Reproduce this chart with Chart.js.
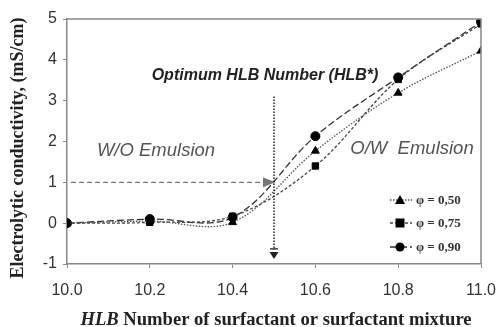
<!DOCTYPE html>
<html><head><meta charset="utf-8">
<script src="https://cdn.jsdelivr.net/npm/chart.js@4.4.0/dist/chart.umd.min.js"></script>
<style>html,body{margin:0;padding:0;background:#fff}#wrap{width:501px;height:327px}</style>
</head><body><div id="wrap"><canvas id="c" width="501" height="327"></canvas></div>
<script>
const hlb = [10.0, 10.2, 10.4, 10.6, 10.8, 11.0];
const phi050 = [0.00, 0.05, 0.02, 1.77, 3.19, 4.22];
const phi075 = [0.00, 0.02, 0.17, 1.40, 3.52, 4.88];
const phi090 = [0.00, 0.10, 0.14, 2.13, 3.57, 4.93];
const seriesLabels = ['φ = 0,50', 'φ = 0,75', 'φ = 0,90'];
const xTicks = [10.0, 10.2, 10.4, 10.6, 10.8, 11.0];
const yTicks = [-1, 0, 1, 2, 3, 4, 5];
const optimumHLB = 10.5;
const refConductivity = 1;

const pts = arr => arr.map((v, i) => ({x: hlb[i], y: v}));
const styles = [
  {color: '#555', dash: [1.5, 1.5], marker: 'triangle'},
  {color: '#444', dash: [3, 2], marker: 'rect'},
  {color: '#333', dash: [7, 3], marker: 'circle'}
];
const datasets = [phi050, phi075, phi090].map((arr, i) => ({
  label: seriesLabels[i],
  data: pts(arr),
  borderColor: styles[i].color,
  borderWidth: 1.3,
  borderDash: styles[i].dash,
  tension: 0.35,
  pointStyle: styles[i].marker,
  pointRadius: 4.5,
  pointBackgroundColor: '#000',
  pointBorderColor: '#000',
  pointBorderWidth: 1,
  fill: false
}));

const deco = {
  id: 'deco',
  afterDraw(chart) {
    const ctx = chart.ctx, a = chart.chartArea;
    const xs = chart.scales.x, ys = chart.scales.y;
    ctx.save();
    // box top/right
    ctx.strokeStyle = '#888'; ctx.lineWidth = 1.5; ctx.setLineDash([]);
    ctx.beginPath();
    ctx.moveTo(a.left, a.top); ctx.lineTo(a.right, a.top); ctx.lineTo(a.right, a.bottom);
    ctx.stroke();
    // horizontal dashed arrow at y=1
    const y1 = ys.getPixelForValue(refConductivity);
    const xOpt = xs.getPixelForValue(optimumHLB);
    ctx.strokeStyle = '#777'; ctx.lineWidth = 1.3; ctx.setLineDash([5, 3]);
    ctx.beginPath(); ctx.moveTo(xs.getPixelForValue(hlb[0]) + 4, y1); ctx.lineTo(xOpt - 9, y1); ctx.stroke();
    ctx.setLineDash([]); ctx.fillStyle = '#777';
    ctx.beginPath(); ctx.moveTo(xOpt + 1, y1); ctx.lineTo(xOpt - 11, y1 - 5); ctx.lineTo(xOpt - 11, y1 + 5); ctx.closePath(); ctx.fill();
    // vertical dotted line at optimum
    const yTop = ys.getPixelForValue(3.1), yBot = ys.getPixelForValue(-0.85);
    ctx.strokeStyle = '#222'; ctx.lineWidth = 1.5; ctx.setLineDash([1.5, 1.5]);
    ctx.beginPath(); ctx.moveTo(xOpt, yTop); ctx.lineTo(xOpt, yBot - 8); ctx.stroke();
    ctx.setLineDash([]); ctx.lineWidth = 1.3;
    ctx.beginPath(); ctx.moveTo(xOpt - 4, yBot - 9); ctx.lineTo(xOpt + 4, yBot - 9); ctx.stroke();
    ctx.fillStyle = '#222';
    ctx.beginPath(); ctx.moveTo(xOpt - 4.5, yBot - 6); ctx.lineTo(xOpt + 4.5, yBot - 6); ctx.lineTo(xOpt, yBot + 1); ctx.closePath(); ctx.fill();
    // annotation texts
    ctx.fillStyle = '#222'; ctx.textBaseline = 'middle'; ctx.textAlign = 'center';
    ctx.font = 'italic bold 16px "Liberation Sans", Arial, sans-serif';
    ctx.fillText('Optimum HLB Number (HLB*)', 265, 76);
    ctx.fillStyle = '#555';
    ctx.font = 'italic 18.5px "Liberation Sans", Arial, sans-serif';
    ctx.fillText('W/O Emulsion', 156, 151);
    ctx.fillText('O/W  Emulsion', 412, 149);
    // legend
    const ly = [200, 223, 247];
    chart.data.datasets.forEach((ds, i) => {
      const y = ly[i];
      ctx.strokeStyle = ds.borderColor; ctx.lineWidth = 1.3; ctx.setLineDash(ds.borderDash);
      ctx.beginPath(); ctx.moveTo(390, y); ctx.lineTo(412, y); ctx.stroke();
      ctx.setLineDash([]);
      ctx.fillStyle = '#000';
      const mx = 400;
      ctx.beginPath();
      if (ds.pointStyle === 'triangle') { ctx.moveTo(mx, y - 5); ctx.lineTo(mx + 5, y + 4); ctx.lineTo(mx - 5, y + 4); ctx.closePath(); }
      else if (ds.pointStyle === 'rect') { ctx.rect(mx - 4.5, y - 4.5, 9, 9); }
      else { ctx.arc(mx, y, 4.5, 0, Math.PI * 2); }
      ctx.fill();
      ctx.fillStyle = '#333'; ctx.textAlign = 'left';
      ctx.font = 'bold 13px "Liberation Serif", "Times New Roman", serif';
      ctx.fillText(ds.label, 416, y + 1);
    });
    // axis titles
    ctx.fillStyle = '#222'; ctx.textAlign = 'left'; ctx.textBaseline = 'alphabetic';
    const t1 = 'HLB', t2 = ' Number of surfactant or surfactant mixture';
    const f = 18.6;
    ctx.font = 'italic bold ' + f + 'px "Liberation Serif", "Times New Roman", serif';
    const w1 = ctx.measureText(t1).width;
    ctx.font = 'bold ' + f + 'px "Liberation Serif", "Times New Roman", serif';
    const w2 = ctx.measureText(t2).width;
    const sx = 276 - (w1 + w2) / 2;
    ctx.font = 'italic bold ' + f + 'px "Liberation Serif", "Times New Roman", serif';
    ctx.fillText(t1, sx, 325);
    ctx.font = 'bold ' + f + 'px "Liberation Serif", "Times New Roman", serif';
    ctx.fillText(t2, sx + w1, 325);
    ctx.translate(18, 148); ctx.rotate(-Math.PI / 2);
    ctx.textAlign = 'center'; ctx.textBaseline = 'middle';
    ctx.font = 'bold 18px "Liberation Serif", "Times New Roman", serif';
    ctx.fillText('Electrolytic conductivity, (mS/cm)', 0, 0);
    ctx.restore();
  }
};

new Chart(document.getElementById('c'), {
  type: 'line',
  data: {datasets},
  options: {
    responsive: false, animation: false,
    layout: {padding: {left: 0, top: 19, right: 20, bottom: 0}},
    plugins: {legend: {display: false}, tooltip: {enabled: false}},
    scales: {
      x: {
        type: 'linear', min: 10, max: 11,
        afterBuildTicks: s => { s.ticks = xTicks.map(v => ({value: v})); },
        afterFit: s => { s.height = 63; s.paddingLeft = 0; s.paddingRight = 0; },
        ticks: {callback: v => Number(v).toFixed(1), color: '#333', font: {size: 16, family: '"Liberation Sans", Arial, sans-serif'}, padding: 13, maxRotation: 0},
        grid: {drawOnChartArea: false, tickLength: 4, color: '#888'},
        border: {color: '#888', width: 1.5}
      },
      y: {
        min: -1, max: 5,
        afterBuildTicks: s => { s.ticks = yTicks.map(v => ({value: v})); },
        afterFit: s => { s.width = 67; },
        ticks: {color: '#333', font: {size: 16, family: '"Liberation Sans", Arial, sans-serif'}, padding: 6},
        grid: {drawOnChartArea: false, tickLength: 4, color: '#888'},
        border: {color: '#888', width: 1.5}
      }
    }
  },
  plugins: [deco]
});
</script></body></html>
